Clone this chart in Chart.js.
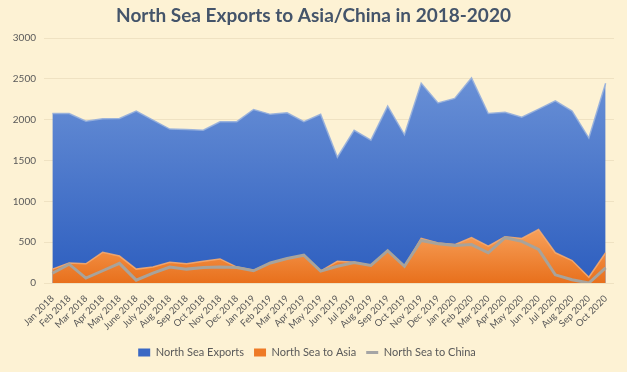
<!DOCTYPE html>
<html>
<head>
<meta charset="utf-8">
<script src="https://cdn.jsdelivr.net/npm/chart.js@4/dist/chart.umd.min.js"></script>
<style>
  html, body { margin: 0; padding: 0; background: #fdf2d4; }
  canvas { display: block; }
</style>
</head>
<body>
<canvas id="chart" width="627" height="372"></canvas>
<script>
const TITLE = "North Sea Exports to Asia/China in 2018-2020";

const months = [
    "Jan 2018", "Feb 2018", "Mar 2018", "Apr 2018", "May 2018", "June 2018",
    "July 2018", "Aug 2018", "Sep 2018", "Oct 2018", "Nov 2018", "Dec 2018",
    "Jan 2019", "Feb 2019", "Mar 2019", "Apr 2019", "May 2019", "Jun 2019",
    "Jul 2019", "Aug 2019", "Sep 2019", "Oct 2019", "Nov 2019", "Dec 2019",
    "Jan 2020", "Feb 2020", "Mar 2020", "Apr 2020", "May 2020", "Jun 2020",
    "Jul 2020", "Aug 2020", "Sep 2020", "Oct 2020"
];

const northSeaExports = [2075, 2075, 1980, 2010, 2015, 2105, 1995, 1885, 1880, 1870, 1975, 1975,
                         2125, 2065, 2085, 1975, 2065, 1540, 1870, 1750, 2165, 1815, 2445, 2205,
                         2260, 2510, 2075, 2090, 2030, 2130, 2230, 2105, 1775, 2445];
const northSeaToAsia = [170, 245, 235, 375, 330, 170, 195, 255, 235, 265, 295, 195,
                        155, 245, 300, 340, 145, 265, 255, 215, 395, 205, 545, 490,
                        470, 555, 450, 565, 545, 655, 370, 275, 70, 370];
const northSeaToChina = [120, 230, 60, 150, 240, 35, 120, 195, 170, 190, 195, 190,
                         150, 245, 300, 340, 145, 205, 250, 215, 395, 205, 520, 480,
                         460, 470, 370, 555, 510, 410, 100, 40, 0, 185];

const yTicks = { min: 0, max: 3000, step: 500 };

// vertical gradient from the top of the series down to zero, like Excel's fill
function areaGradient(top, bottom) {
    return function (context) {
        const chart = context.chart;
        const y = chart.scales.y;
        if (!chart.chartArea || !y) return bottom;
        const values = context.dataset.data;
        const g = chart.ctx.createLinearGradient(0, y.getPixelForValue(Math.max(...values)), 0, y.getPixelForValue(0));
        g.addColorStop(0, top);
        g.addColorStop(1, bottom);
        return g;
    };
}

const titleText = {
    id: 'titleText',
    afterDraw(chart) {
        const ctx = chart.ctx;
        ctx.save();
        ctx.font = 'bold 19px Lato';
        ctx.fillStyle = '#44546a';
        ctx.textAlign = 'center';
        ctx.textBaseline = 'middle';
        ctx.fillText(TITLE, chart.width / 2, 16);
        ctx.restore();
    }
};

const legendColors = ['#3a68c4', '#ee7a26', '#a5a5a5'];

new Chart(document.getElementById('chart').getContext('2d'), {
    type: 'line',
    data: {
        labels: months,
        datasets: [
            {
                label: "North Sea Exports",
                data: northSeaExports,
                fill: 'origin',
                backgroundColor: areaGradient('#6990d6', '#2d5ebf'),
                borderColor: 'rgba(150,175,220,0.9)',
                borderWidth: 1.5,
                pointRadius: 0,
                pointStyle: 'rect',
                tension: 0,
                order: 3
            },
            {
                label: "North Sea to Asia",
                data: northSeaToAsia,
                fill: 'origin',
                backgroundColor: areaGradient('#f7a05a', '#e8701c'),
                borderColor: 'rgba(245,170,110,0.9)',
                borderWidth: 1.5,
                pointRadius: 0,
                pointStyle: 'rect',
                tension: 0,
                order: 2
            },
            {
                label: "North Sea to China",
                data: northSeaToChina,
                fill: false,
                borderColor: '#a8a39b',
                borderWidth: 3,
                pointRadius: 0,
                pointStyle: 'line',
                tension: 0,
                order: 1
            }
        ]
    },
    options: {
        responsive: false,
        animation: false,
        layout: { padding: { top: 38, right: 13, left: 0, bottom: 4 } },
        plugins: {
            title: { display: false },
            tooltip: { enabled: false },
            legend: {
                position: 'bottom',
                labels: {
                    usePointStyle: true,
                    boxWidth: 8,
                    boxHeight: 8,
                    pointStyleWidth: 12,
                    padding: 10,
                    color: '#595959',
                    font: { family: 'Lato', size: 11 },
                    sort: (a, b) => a.datasetIndex - b.datasetIndex,
                    generateLabels: function (chart) {
                        return Chart.defaults.plugins.legend.labels.generateLabels(chart).map(function (item) {
                            const c = legendColors[item.datasetIndex];
                            item.fillStyle = c;
                            item.strokeStyle = c;
                            item.lineWidth = item.datasetIndex === 2 ? 3 : 0;
                            return item;
                        });
                    }
                }
            }
        },
        scales: {
            x: {
                offset: true,
                grid: { display: false },
                border: { display: false },
                ticks: {
                    autoSkip: false,
                    minRotation: 45,
                    maxRotation: 45,
                    padding: 2,
                    color: '#595959',
                    font: { family: 'Lato', size: 9.5 }
                },
                afterFit: function (scale) { scale.height = 54; }
            },
            y: {
                min: yTicks.min,
                max: yTicks.max,
                grid: { color: '#efe2c2', drawTicks: false },
                border: { display: false },
                ticks: {
                    stepSize: yTicks.step,
                    padding: 8,
                    color: '#595959',
                    font: { family: 'Lato', size: 10 },
                    callback: (v) => String(v)
                },
                afterFit: function (scale) { scale.width = 44; }
            }
        }
    },
    plugins: [titleText]
});
</script>
</body>
</html>
